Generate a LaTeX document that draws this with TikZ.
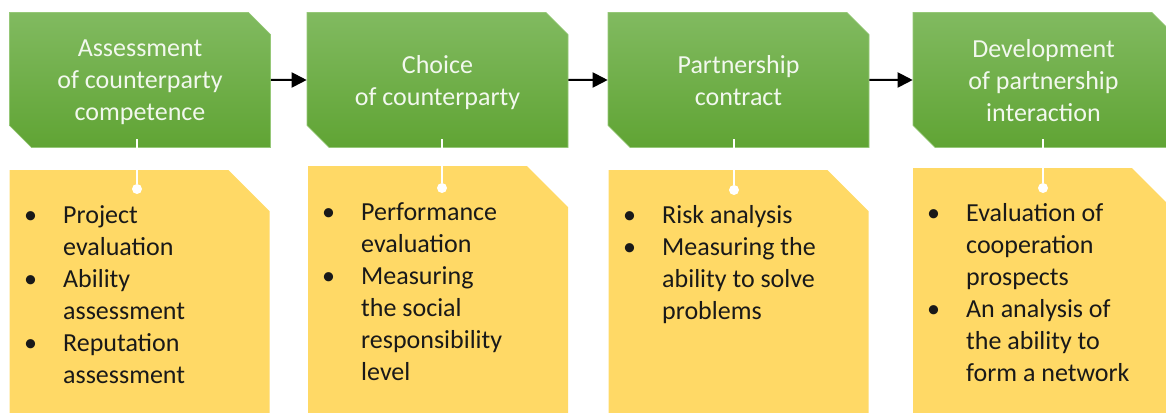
\documentclass[tikz,border=0pt]{standalone}
\usepackage{fontspec}
\setmainfont{Carlito}
\usetikzlibrary{shapes.misc,arrows.meta}

\definecolor{stagetop}{RGB}{129,186,96}
\definecolor{stagebot}{RGB}{96,164,52}
\definecolor{stageline}{RGB}{150,200,120}
\definecolor{stagetext}{RGB}{242,248,238}
\definecolor{notefill}{RGB}{255,217,102}

\tikzset{
  stage/.style={chamfered rectangle, chamfered rectangle corners={north east,south west},
    chamfered rectangle sep=11pt, minimum width=261pt, minimum height=135pt, inner sep=0pt,
    top color=stagetop, bottom color=stagebot, draw=stageline, line width=0.6pt,
    text=stagetext, align=center, text depth=0pt, font=\fontsize{26}{32}\selectfont},
  note/.style={chamfered rectangle, chamfered rectangle corners={north east},
    chamfered rectangle sep=20.5pt, minimum width=260pt, minimum height=249pt, inner sep=60pt,
    fill=notefill, anchor=north},
  items/.style={anchor=base west, align=left, inner sep=0pt, text=black!90,
    font=\fontsize{26}{32}\selectfont},
  stem/.style={white, line width=2pt},
  knob/.style={circle, fill=white, inner sep=0pt, minimum size=10pt},
  flow/.style={-{Triangle[length=15pt,width=15pt]}, line width=2pt}
}
\newcommand\notebul{\makebox[39pt][l]{\textbullet}}
\newcommand\notegap{\makebox[39pt]{}}

\begin{document}
\begin{tikzpicture}[x=1pt,y=-1pt]
  \useasboundingbox (0,0) rectangle (1166,412);
  \clip (0,0) rectangle (1166,412);

  % notes under the stages
  \node[note] (y1) at (139.5,170) {};
  \node[note] (y2) at (438,166) {};
  \node[note] (y3) at (738.5,170) {};
  \node[note] (y4) at (1043,168) {};

  % stages
  \node[stage] (g1) at (140,80) {Assessment\\of counterparty\\competence};
  \node[stage] (g2) at (437.5,80) {Choice\\of counterparty};
  \node[stage] (g3) at (738.5,80) {Partnership\\contract};
  \node[stage] (g4) at (1043.5,80) {Development\\of partnership\\interaction};

  \draw[flow] (g1) -- (g2);
  \draw[flow] (g2) -- (g3);
  \draw[flow] (g3) -- (g4);

  % stems
  \coordinate (t1) at (137,139);
  \coordinate (t2) at (442,139);
  \coordinate (t3) at (734,139);
  \coordinate (t4) at (1043,139);
  \node[knob] (k1) at (137,189) {};
  \node[knob] (k2) at (442,188) {};
  \node[knob] (k3) at (734,190) {};
  \node[knob] (k4) at (1043,188) {};
  \draw[stem] (t1) -- (k1);
  \draw[stem] (t2) -- (k2);
  \draw[stem] (t3) -- (k3);
  \draw[stem] (t4) -- (k4);

  % lists (anchored at the baseline of the last line)
  \node[items] (l1) at (24,383) {\notebul Project\\\notegap evaluation\\\notebul Ability\\
    \notegap assessment\\\notebul Reputation\\\notegap assessment};
  \node[items] (l2) at (322,380) {\notebul Performance\\\notegap evaluation\\\notebul Measuring\\
    \notegap the social\\\notegap responsibility\\\notegap level};
  \node[items] (l3) at (623,319) {\notebul Risk analysis\\\notebul Measuring the\\
    \notegap ability to solve\\\notegap problems};
  \node[items] (l4) at (927,381) {\notebul Evaluation of\\\notegap cooperation\\\notegap prospects\\
    \notebul An analysis of\\\notegap the ability to\\\notegap form a network};
\end{tikzpicture}
\end{document}
